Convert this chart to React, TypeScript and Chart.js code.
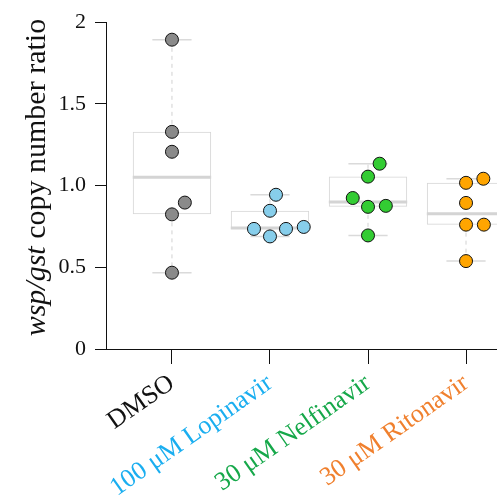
import React, { useEffect, useRef } from "react";
import { Chart, registerables } from "chart.js";

Chart.register(...registerables);

const categories = ["DMSO", "100 μM Lopinavir", "30 μM Nelfinavir", "30 μM Ritonavir"];
const labelColors = ["#111111", "#1aaef0", "#16a84a", "#f0802e"];
const pointColors = ["#8a8a8a", "#87ceeb", "#33cc33", "#ffa500"];

const dmso = [1.893, 1.329, 1.207, 0.896, 0.824, 0.467];
const lopinavir = [0.944, 0.846, 0.735, 0.689, 0.735, 0.747];
const nelfinavir = [1.134, 1.055, 0.924, 0.87, 0.876, 0.695];
const ritonavir = [1.017, 1.042, 0.894, 0.761, 0.761, 0.538];
const groups = [dmso, lopinavir, nelfinavir, ritonavir];

const yTicks = [0, 0.5, 1, 1.5, 2];

const FONT = '"Liberation Serif", "Times New Roman", serif';

function median(s: number[]) {
  const n = s.length;
  return n % 2 ? s[(n - 1) / 2] : (s[n / 2 - 1] + s[n / 2]) / 2;
}
function stats(vals: number[]) {
  const s = [...vals].sort((a, b) => a - b);
  const n = s.length;
  const half = Math.ceil(n / 2);
  const lower = s.slice(0, half);
  const upper = s.slice(n - half);
  return { min: s[0], q1: median(lower), med: median(s), q3: median(upper), max: s[n - 1] };
}

function swarm(vals: number[], yPix: (v: number) => number, D: number) {
  const order = vals.map((_, i) => i).sort((a, b) => vals[a] - vals[b]);
  const placed: { x: number; y: number }[] = [];
  const off = new Array(vals.length).fill(0);
  for (const i of order) {
    const y = yPix(vals[i]);
    const nb = placed.filter((p) => Math.abs(p.y - y) < D);
    const c: number[] = [0];
    for (const n of nb) {
      const dx = Math.sqrt(Math.max(D * D - (y - n.y) ** 2, 0)) * 1.05;
      c.push(n.x - dx, n.x + dx);
    }
    c.sort((a, b) => {
      const d = Math.abs(a) - Math.abs(b);
      return Math.abs(d) < 1e-6 ? b - a : d;
    });
    let chosen = c[c.length - 1];
    for (const x of c) {
      if (nb.every((n) => Math.hypot(x - n.x, y - n.y) >= D - 1e-6)) {
        chosen = x;
        break;
      }
    }
    placed.push({ x: chosen, y });
    off[i] = chosen;
  }
  return off;
}

const yTitlePlugin = {
  id: "yTitle",
  afterDraw(chart: any) {
    const { ctx, chartArea } = chart;
    const cy = (chartArea.top + chartArea.bottom) / 2 - 8;
    ctx.save();
    ctx.translate(45, cy);
    ctx.rotate(-Math.PI / 2);
    ctx.fillStyle = "#111";
    ctx.textBaseline = "alphabetic";
    ctx.textAlign = "left";
    const italic = `italic 30px ${FONT}`;
    const normal = `30px ${FONT}`;
    const p1 = "wsp/gst";
    const p2 = " copy number ratio";
    ctx.font = italic;
    const w1 = ctx.measureText(p1).width;
    ctx.font = normal;
    const w2 = ctx.measureText(p2).width;
    const x0 = -(w1 + w2) / 2;
    ctx.font = italic;
    ctx.fillText(p1, x0, 0);
    ctx.font = normal;
    ctx.fillText(p2, x0 + w1, 0);
    ctx.restore();
  },
};

export default function App() {
  const ref = useRef<HTMLCanvasElement | null>(null);
  useEffect(() => {
    document.body.style.margin = "0";
    const st = groups.map(stats);
    const BOXHALF = 0.4;
    const CAPHALF = 0.2;
    const gap = (i: number) => ({ x: i + 1.5, y: null as any });

    const medianData: any[] = [];
    const whiskerData: any[] = [];
    const capData: any[] = [];
    st.forEach((s, i) => {
      const x = i + 1;
      medianData.push({ x: x - BOXHALF, y: s.med }, { x: x + BOXHALF, y: s.med }, gap(i));
      whiskerData.push({ x, y: s.q3 }, { x, y: s.max }, gap(i), { x, y: s.q1 }, { x, y: s.min }, gap(i));
      capData.push({ x: x - CAPHALF, y: s.max }, { x: x + CAPHALF, y: s.max }, gap(i));
      capData.push({ x: x - CAPHALF, y: s.min }, { x: x + CAPHALF, y: s.min }, gap(i));
    });

    const datasets: any[] = [
      {
        type: "bar",
        data: st.map((s, i) => ({ x: i + 1, y: [s.q1, s.q3] })),
        backgroundColor: "rgba(255,255,255,0)",
        borderColor: "#d6d6d6",
        borderWidth: 1,
        borderSkipped: false,
        barPercentage: 1,
        categoryPercentage: 0.8,
        order: 5,
      },
      {
        type: "line",
        data: whiskerData,
        borderColor: "#d2d2d2",
        borderWidth: 1,
        borderDash: [4, 4],
        pointRadius: 0,
        order: 4,
      },
      {
        type: "line",
        data: capData,
        borderColor: "#dadada",
        borderWidth: 1.5,
        pointRadius: 0,
        order: 3,
      },
      {
        type: "line",
        data: medianData,
        borderColor: "#d4d4d4",
        borderWidth: 3,
        pointRadius: 0,
        order: 2,
      },
      ...groups.map((g, i) => ({
        type: "scatter",
        data: g.map((v) => ({ x: i + 1, y: v })),
        backgroundColor: pointColors[i],
        borderColor: "#111",
        borderWidth: 1,
        pointRadius: 6.5,
        pointHoverRadius: 6.5,
        order: 0,
      })),
    ];

    const chart = new Chart(ref.current as HTMLCanvasElement, {
      type: "scatter",
      data: { datasets },
      plugins: [yTitlePlugin],
      options: {
        animation: false,
        responsive: false,
        events: [],
        layout: { autoPadding: false, padding: { top: 19, left: 0, right: 0, bottom: 0 } },
        plugins: { legend: { display: false }, tooltip: { enabled: false } },
        scales: {
          x: {
            type: "linear",
            offset: false,
            min: 0.327,
            max: 4.316,
            afterBuildTicks: (scale: any) => {
              scale.ticks = categories.map((_, i) => ({ value: i + 1 }));
            },
            afterFit: (scale: any) => {
              scale.height = 151;
              scale.paddingLeft = 0;
              scale.paddingRight = 0;
            },
            grid: { offset: false, drawOnChartArea: false, drawTicks: true, tickLength: 15, color: "#111", lineWidth: 1 },
            border: { display: true, color: "#111", width: 1 },
            ticks: {
              autoSkip: false,
              minRotation: 35,
              maxRotation: 35,
              padding: 4,
              font: { family: FONT, size: 26 },
              color: (ctx: any) => labelColors[ctx.index] ?? "#111",
              callback: (_v: any, idx: number) => categories[idx],
            },
          },
          y: {
            type: "linear",
            min: 0,
            max: 2,
            afterBuildTicks: (scale: any) => {
              scale.ticks = yTicks.map((v) => ({ value: v }));
            },
            afterFit: (scale: any) => {
              scale.width = 106;
            },
            grid: { drawOnChartArea: false, drawTicks: true, tickLength: 11, color: "#111", lineWidth: 1 },
            border: { display: true, color: "#111", width: 1 },
            ticks: {
              padding: 9,
              font: { family: FONT, size: 22 },
              color: "#111",
              callback: (v: any) => (v === 0 || v === 2 ? String(v) : Number(v).toFixed(1)),
            },
          },
        },
      } as any,
    });

    const ys = chart.scales.y;
    const xs = chart.scales.x;
    const unit = xs.getPixelForValue(2) - xs.getPixelForValue(1);
    groups.forEach((g, i) => {
      const off = swarm(g, (v) => ys.getPixelForValue(v), 17);
      (chart.data.datasets[4 + i] as any).data = g.map((v, k) => ({ x: i + 1 + off[k] / unit, y: v }));
    });
    chart.update();

    return () => chart.destroy();
  }, []);

  return (
    <div style={{ width: 497, height: 500, overflow: "hidden" }}>
      <canvas ref={ref} width={497} height={500} style={{ display: "block" }} />
    </div>
  );
}
